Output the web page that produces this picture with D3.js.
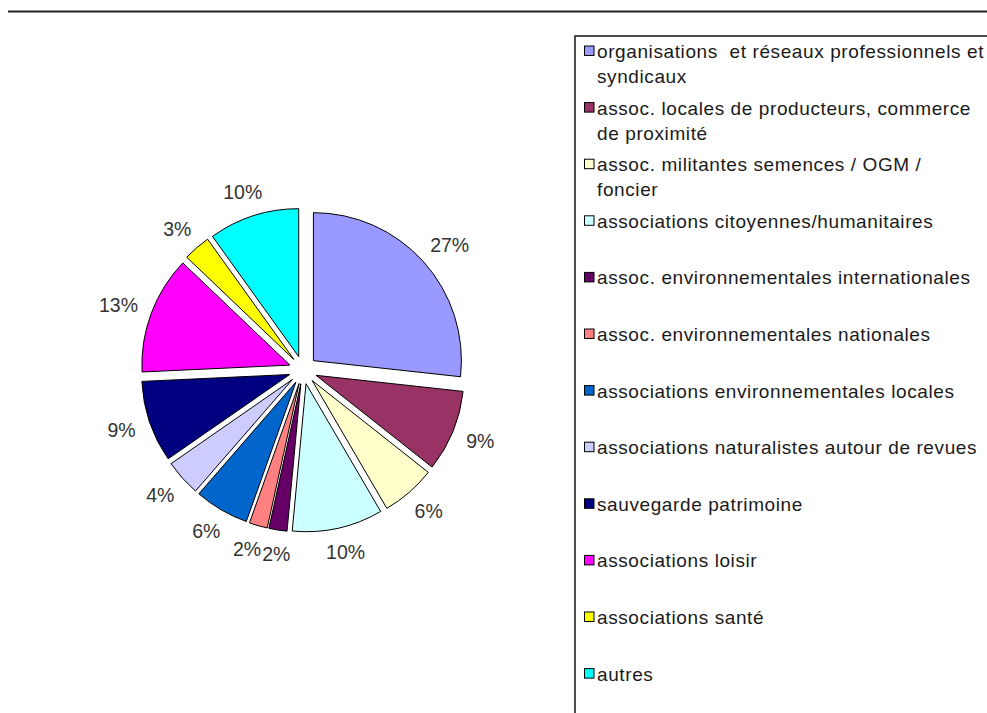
<!DOCTYPE html>
<html>
<head>
<meta charset="utf-8">
<script src="https://cdn.jsdelivr.net/npm/d3@7"></script>
<style>
  html, body { margin: 0; padding: 0; background: #fff; }
  svg { display: block; }
</style>
</head>
<body>
<svg id="chart" width="987" height="713"></svg>
<script>
// ---- data ----
const categories = [
  "organisations  et réseaux professionnels et\nsyndicaux",
  "assoc. locales de producteurs, commerce\nde proximité",
  "assoc. militantes semences / OGM /\nfoncier",
  "associations citoyennes/humanitaires",
  "assoc. environnementales internationales",
  "assoc. environnementales nationales",
  "associations environnementales locales",
  "associations naturalistes autour de revues",
  "sauvegarde patrimoine",
  "associations loisir",
  "associations santé",
  "autres"
];
const values = [27, 9, 6, 10, 2, 2, 6, 4, 9, 13, 3, 10];
const labels = ["27%", "9%", "6%", "10%", "2%", "2%", "6%", "4%", "9%", "13%", "3%", "10%"];
const colors = ["#9999FF", "#993366", "#FFFFCC", "#CCFFFF", "#660066", "#FF8080",
                "#0066CC", "#CCCCFF", "#000080", "#FF00FF", "#FFFF00", "#00FFFF"];

// ---- layout ----
const svg = d3.select("#chart");
const cx = 303, cy = 370, R = 148, explode = 14, labelR = 177;
const font = "'Liberation Sans', Arial, sans-serif";

// top rule
svg.append("line")
  .attr("x1", 8).attr("x2", 987).attr("y1", 11.5).attr("y2", 11.5)
  .attr("stroke", "#222").attr("stroke-width", 2);

const pie = d3.pie().value(d => d).sort(null);
const arcs = pie(values);
const arc = d3.arc().innerRadius(0).outerRadius(R);

const g = svg.append("g").attr("transform", `translate(${cx},${cy})`);

g.selectAll("path.slice").data(arcs).enter().append("path")
  .attr("class", "slice")
  .attr("d", arc)
  .attr("fill", (d, i) => colors[i])
  .attr("stroke", "#000")
  .attr("stroke-width", 1)
  .attr("stroke-linejoin", "round")
  .attr("transform", d => {
    const a = (d.startAngle + d.endAngle) / 2;
    return `translate(${explode * Math.sin(a)},${-explode * Math.cos(a)})`;
  });

// labels (outside end), measured then de-overlapped
const fs = 19.5;
const texts = g.selectAll("text.lbl").data(arcs).enter().append("text")
  .attr("class", "lbl")
  .attr("font-family", font)
  .attr("font-size", fs)
  .attr("fill", "#333")
  .attr("text-anchor", "middle")
  .attr("dominant-baseline", "central")
  .text((d, i) => labels[i]);

const pos = [];
texts.each(function(d, i) {
  const a = (d.startAngle + d.endAngle) / 2;
  const sx = Math.sin(a), sy = -Math.cos(a);
  const hw = this.getComputedTextLength() / 2 + 0.5;
  const hh = fs * 0.5;
  pos.push({ x: labelR * sx + hw * sx, y: labelR * sy + hh * sy, hw, hh });
});
for (let i = 1; i < pos.length; i++) {
  const p = pos[i], q = pos[i - 1];
  const ox = (p.hw + q.hw) - Math.abs(p.x - q.x);
  const oy = (p.hh + q.hh) - Math.abs(p.y - q.y);
  if (ox > 0 && oy > 0) {
    const dir = p.x < q.x ? -1 : 1;
    q.x -= dir * ox / 2;
    p.x += dir * ox / 2;
  }
}
texts.attr("x", (d, i) => pos[i].x).attr("y", (d, i) => pos[i].y);

// ---- legend ----
const lx = 575, ly = 36;
svg.append("rect")
  .attr("x", lx).attr("y", ly).attr("width", 600).attr("height", 900)
  .attr("fill", "none").attr("stroke", "#222").attr("stroke-width", 1.6);

const rowY = d3.scaleLinear().domain([0, 1]).range([58, 58 + 56.6]);

const items = svg.selectAll("g.leg").data(categories).enter().append("g")
  .attr("class", "leg")
  .attr("transform", (d, i) => `translate(0,${rowY(i)})`);

items.append("rect")
  .attr("x", 584.5).attr("y", -12).attr("width", 9.5).attr("height", 9.5)
  .attr("fill", (d, i) => colors[i])
  .attr("stroke", "#000").attr("stroke-width", 1);

items.append("text")
  .attr("x", 597)
  .attr("font-family", font)
  .attr("font-size", 19)
  .attr("letter-spacing", "0.6px")
  .attr("fill", "#1a1a1a")
  .attr("xml:space", "preserve")
  .style("white-space", "pre")
  .each(function(d) {
    const lines = d.split("\n");
    const t = d3.select(this);
    lines.forEach((ln, k) => {
      t.append("tspan").attr("x", 597).attr("y", k * 25).text(ln);
    });
  });
</script>
</body>
</html>
